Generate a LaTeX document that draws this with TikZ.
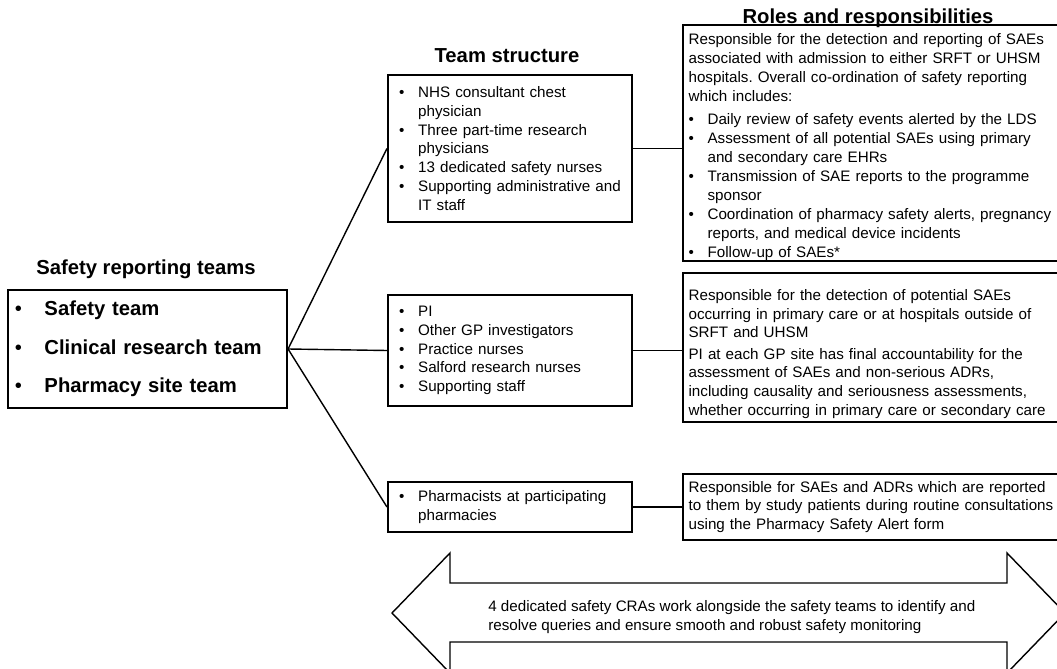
\documentclass[tikz,border=0pt]{standalone}
\usepackage{fontspec}
\setmainfont{Liberation Sans}
\usetikzlibrary{positioning}
\frenchspacing

\newcommand{\bul}{\makebox[13.5pt][l]{\textbullet}}
\newcommand{\ind}{\hspace*{13.5pt}}
\newcommand{\bigbul}{\makebox[21pt][l]{\normalfont\textbullet}}

\begin{document}
\begin{tikzpicture}[
    x=0.025cm, y=-0.025cm,
    box/.style={draw, line width=1.4pt, align=left, inner ysep=0pt,
      font=\fontsize{10.8}{13.3}\selectfont},
    teambox/.style={box, inner xsep=8pt, text width=157.6pt},
    rolebox/.style={box, inner xsep=4pt, text width=276.5pt},
    head/.style={font=\fontsize{14.4}{16}\selectfont\bfseries, inner sep=0pt, anchor=base},
    link/.style={line width=1pt}
  ]
  \useasboundingbox (0,0) rectangle (1057,669);
  \clip (0,0) rectangle (1057,669);

  % headings
  \node[head] (hteams) at (146,274) {Safety reporting teams};
  \node[head] (hstruct) at (507,63) {Team structure};
  \node[head] (hroles) at (868,24) {Roles and responsibilities};

  % safety reporting teams
  \node[box, inner xsep=5pt, text width=188.5pt, minimum height=84pt,
    font=\fontsize{14.4}{27.4}\selectfont\bfseries] (teams) at (147.5,349)
    {\bigbul Safety team\\ \bigbul Clinical research team\\ \bigbul Pharmacy site team};

  % team structure
  \node[teambox, minimum height=104.6pt] (tsafe) at (510,148.5)
    {\bul NHS consultant chest\\ \ind physician\\
     \bul Three part-time research\\ \ind physicians\\
     \bul 13 dedicated safety nurses\\
     \bul Supporting administrative and\\ \ind IT staff};
  \node[teambox, minimum height=79pt] (tclin) at (510,350.5)
    {\bul PI\\ \bul Other GP investigators\\ \bul Practice nurses\\
     \bul Salford research nurses\\ \bul Supporting staff};
  \node[teambox, minimum height=35.6pt] (tpharm) at (510,507)
    {\bul Pharmacists at participating\\ \ind pharmacies};

  % roles and responsibilities
  \node[rolebox, minimum height=166.4pt, font=\fontsize{10.8}{13.5}\selectfont] (rsafe) at (883,143)
    {\rule{0pt}{13.5pt}Responsible for the detection and reporting of SAEs\\
     associated with admission to either SRFT or UHSM\\
     hospitals. Overall co-ordination of safety reporting\\
     which includes:\\[3pt]
     \bul Daily review of safety events alerted by the LDS\\
     \bul Assessment of all potential SAEs using primary\\
     \ind and secondary care EHRs\\
     \bul Transmission of SAE reports to the programme\\
     \ind sponsor\\
     \bul Coordination of pharmacy safety alerts, pregnancy\\
     \ind reports, and medical device incidents\\
     \bul Follow-up of SAEs*};
  \node[rolebox, minimum height=106pt] (rclin) at (883,347.5)
    {\rule{0pt}{17pt}Responsible for the detection of potential SAEs\\
     occurring in primary care or at hospitals outside of\\
     SRFT and UHSM\\[2pt]
     PI at each GP site has final accountability for the\\
     assessment of SAEs and non-serious ADRs,\\
     including causality and seriousness assessments,\\
     whether occurring in primary care or secondary care};
  \node[rolebox, minimum height=46.9pt] (rpharm) at (883,507)
    {Responsible for SAEs and ADRs which are reported\\
     to them by study patients during routine consultations\\
     using the Pharmacy Safety Alert form};

  % connectors
  \draw[link] (teams.east) -- (tsafe.west);
  \draw[link] (teams.east) -- (tclin.west);
  \draw[link] (teams.east) -- (tpharm.west);
  \draw[link] (tsafe.east) -- (tsafe.east -| rsafe.west);
  \draw[link] (tclin.east) -- (tclin.east -| rclin.west);
  \draw[link] (tpharm.east) -- (tpharm.east -| rpharm.west);

  % CRA double arrow
  \draw[link] (392,613) -- (450,553) -- (450,583) -- (1007,583) -- (1007,553)
    -- (1065,613) -- (1007,673) -- (1007,642) -- (450,642) -- (450,673) -- cycle;
  \node[anchor=west, align=left, inner sep=0pt, font=\fontsize{10.8}{13.8}\selectfont]
    (cras) at (488,617)
    {4 dedicated safety CRAs work alongside the safety teams to identify and\\
     resolve queries and ensure smooth and robust safety monitoring};
\end{tikzpicture}
\end{document}
